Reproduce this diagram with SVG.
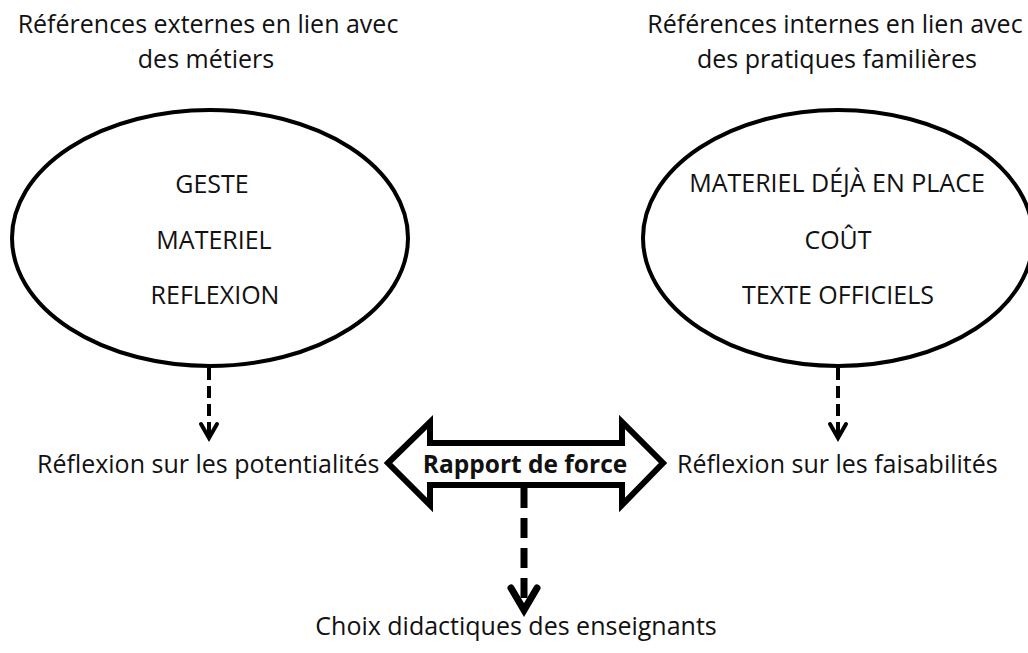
<svg xmlns="http://www.w3.org/2000/svg" width="1028" height="653" viewBox="0 0 1028 653">
<style>
  text { font-family: "Open Sans", "Liberation Sans", sans-serif; fill: #111; }
  .t { font-size: 25px; text-anchor: middle; }
  .l { font-size: 25px; }
  .in { font-size: 25px; text-anchor: middle; }
  .b { font-size: 24.5px; font-weight: bold; text-anchor: middle; }
  .ell { fill: #fff; stroke: #000; stroke-width: 4; }
  .dash { stroke: #000; stroke-width: 4; stroke-dasharray: 12 6; fill: none; }
  .dashb { stroke: #000; stroke-width: 7; stroke-dasharray: 20 10; fill: none; }
  .chev { stroke: #000; stroke-width: 4; fill: none; stroke-linecap: round; }
  .chevb { stroke: #000; stroke-width: 7; fill: none; stroke-linecap: round; }
</style>
<rect width="1028" height="653" fill="#fff"/>
<g id="left-title">
  <text class="t" x="208" y="33">Références externes en lien avec</text>
  <text class="t" x="206" y="68">des métiers</text>
</g>
<g id="right-title">
  <text class="t" x="835" y="33">Références internes en lien avec</text>
  <text class="t" x="837" y="68">des pratiques familières</text>
</g>
<g id="left-ellipse">
  <ellipse class="ell" cx="210" cy="238" rx="198" ry="128"/>
  <text class="in" x="212" y="193">GESTE</text>
  <text class="in" x="214" y="249">MATERIEL</text>
  <text class="in" x="215" y="304">REFLEXION</text>
</g>
<g id="right-ellipse">
  <ellipse class="ell" cx="838" cy="238" rx="195" ry="128"/>
  <text class="in" x="837" y="192">MATERIEL DÉJÀ EN PLACE</text>
  <text class="in" x="838" y="249">COÛT</text>
  <text class="in" x="838" y="304">TEXTE OFFICIELS</text>
</g>
<g id="potentialites">
  <text class="l" x="37" y="473">Réflexion sur les potentialités</text>
</g>
<g id="faisabilites">
  <text class="l" x="677" y="473">Réflexion sur les faisabilités</text>
</g>
<g id="rapport">
  <polygon points="388,463 430,422 430,443 622,443 622,422 663,463 622,505 622,485 430,485 430,505" fill="#fff" stroke="#000" stroke-width="6" stroke-linejoin="miter"/>
  <text class="b" x="525" y="473">Rapport de force</text>
</g>
<g id="choix">
  <text class="t" x="516" y="635">Choix didactiques des enseignants</text>
</g>
<g id="connectors">
  <line class="dash" x1="209" y1="368" x2="209" y2="436"/>
  <polyline class="chev" points="201,424 209,438 217,424"/>
  <line class="dash" x1="838" y1="368" x2="838" y2="436"/>
  <polyline class="chev" points="830,424 838,438 846,424"/>
  <line class="dashb" x1="524" y1="488" x2="524" y2="608"/>
  <polyline class="chevb" points="511,588 524,610 537,588"/>
</g>
</svg>
